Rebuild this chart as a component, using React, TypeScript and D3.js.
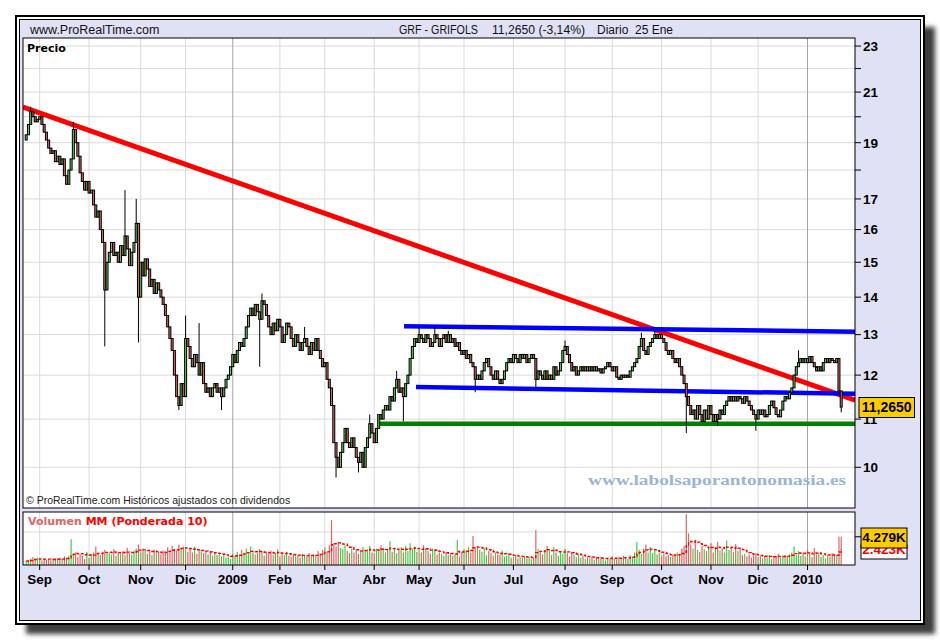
import React from "react";
import * as d3 from "d3";

// ---------------- data ----------------
const START_DATE = "2008-08-22";
const END_DATE = "2010-01-25";
const HOLIDAYS = ["2008-12-25", "2008-12-26", "2009-01-01", "2009-04-10", "2009-04-13", "2009-05-01", "2009-12-25", "2010-01-01"];
const MONTHS_ES = ["Ene", "Feb", "Mar", "Abr", "May", "Jun", "Jul", "Ago", "Sep", "Oct", "Nov", "Dic"];

const FIRST_OPEN = 19.1;
const CLOSES = [
  19.3, 19.7, 20.2, 20.0, 19.8, 19.9, 20.0, 19.7, 19.4, 19.1,
  18.8, 18.6, 18.7, 18.3, 18.5, 18.2, 18.4, 17.8, 17.5, 18.0,
  18.4, 19.5, 19.0, 18.5, 17.9, 17.6, 17.3, 17.6, 17.2, 17.3,
  16.8, 16.4, 16.6, 16.0, 15.6, 14.2, 15.0, 15.3, 15.6, 15.2,
  15.3, 15.0, 15.5, 15.2, 15.8, 15.4, 14.9, 15.3, 15.6, 16.2,
  14.0, 15.0, 14.6, 15.1, 14.8, 14.3, 14.5, 14.1, 14.4, 14.2,
  14.0, 13.8, 13.5, 13.2, 12.9, 12.6, 12.0, 11.5, 11.3, 11.8,
  11.5, 12.9, 12.7, 12.4, 12.2, 12.5, 12.3, 12.0, 12.3, 11.8,
  11.6, 11.7, 11.5, 11.7, 11.8, 11.6, 11.7, 11.5, 11.7, 11.9,
  12.0, 12.2, 12.5, 12.3, 12.6, 12.8, 12.7, 12.9, 13.2, 13.5,
  13.7, 13.5, 13.8, 13.6, 13.4, 13.9, 13.8, 13.5, 13.2, 13.0,
  13.3, 13.1, 13.4, 13.2, 12.8, 13.0, 13.3, 13.2, 12.9, 12.7,
  13.0, 12.8, 12.6, 12.8, 12.9, 12.7, 12.5, 12.8, 12.6, 12.9,
  12.6, 12.4, 12.2, 12.3, 11.9, 11.7, 11.3, 10.5, 10.2, 10.0,
  10.3, 10.5, 10.8, 10.5, 10.4, 10.6, 10.4, 10.2, 10.1, 10.3,
  10.0, 10.4, 10.6, 10.9, 10.7, 10.5, 10.8, 11.1, 11.0, 11.2,
  11.3, 11.2, 11.5, 11.4, 11.7, 11.9, 11.6, 11.7, 11.5, 11.8,
  12.0, 12.4, 12.7, 12.9, 12.8, 13.0, 12.9, 12.8, 13.0, 12.9,
  12.7, 12.8, 13.0, 12.9, 12.7, 12.9, 13.0, 12.8, 13.0, 12.8,
  12.9, 12.7, 12.8, 12.6, 12.5, 12.6, 12.4, 12.5, 12.3, 12.2,
  11.9, 12.0, 11.9, 12.1, 12.3, 12.4, 12.2, 12.0, 11.9, 12.1,
  11.9, 11.8, 11.9, 12.1, 12.3, 12.4, 12.3, 12.5, 12.4, 12.3,
  12.5, 12.4, 12.5, 12.3, 12.4, 12.5, 12.4, 11.9, 12.1, 12.0,
  11.9, 12.1, 11.9, 12.0, 11.9, 12.2, 12.0, 12.1, 12.3, 12.6,
  12.7, 12.5, 12.3, 12.1, 12.2, 12.0, 12.1, 12.2, 12.1, 12.2,
  12.1, 12.2, 12.1, 12.2, 12.1, 12.15, 12.05, 12.15, 12.2, 12.3,
  12.2, 12.1, 12.2, 11.95, 11.9, 12.0, 11.95, 12.0, 11.95, 12.1,
  12.2, 12.3, 12.4, 12.7, 12.9, 12.6, 12.5, 12.7, 12.8, 12.9,
  13.0, 12.9, 13.0, 12.9, 12.8, 12.6, 12.5, 12.6, 12.4, 12.3,
  12.4, 12.2, 12.0, 11.8, 11.5, 11.3, 11.1, 11.2, 11.0, 11.3,
  11.1, 10.95, 11.2, 11.0, 11.3, 11.1, 10.95, 11.1, 11.0, 11.2,
  11.1, 11.3, 11.4, 11.5, 11.4, 11.5, 11.4, 11.5, 11.45, 11.35,
  11.5, 11.4, 11.3, 11.2, 11.1, 11.0, 11.2, 11.1, 11.2, 11.05,
  11.1, 11.3, 11.4, 11.25, 11.1, 11.05, 11.2, 11.4, 11.5, 11.45,
  11.6, 11.7, 12.0, 12.2, 12.3, 12.4, 12.3, 12.4, 12.3, 12.45,
  12.3, 12.2, 12.1, 12.2, 12.1, 12.3, 12.4, 12.3, 12.4, 12.35,
  12.3, 12.4, 11.63, 11.265,
];
// notable wicks: [day index, price]
const HIGH_MARKS: [number, number][] = [
  [2, 20.4], [21, 19.8], [44, 17.3], [49, 17.0], [71, 13.5], [77, 13.3], [105, 14.1],
  [124, 13.2], [153, 11.1], [165, 12.1], [175, 13.2], [182, 13.2], [188, 13.1],
  [240, 12.85], [274, 13.05], [280, 13.1], [344, 12.6],
];
const LOW_MARKS: [number, number][] = [
  [35, 12.7], [50, 12.8], [68, 11.2], [87, 11.2], [104, 12.2], [138, 9.8], [148, 9.9],
  [168, 10.95], [200, 11.6], [227, 11.7], [294, 10.7], [308, 10.85], [325, 10.75], [363, 11.15],
];
// volume (K)
const VOLUMES = [
  0.6, 0.5, 0.9, 1.2, 0.8, 1.1, 0.9, 0.7, 1.0, 0.8,
  0.9, 0.7, 0.8, 1.0, 0.9, 1.1, 0.8, 1.3, 1.0, 1.4,
  3.9, 1.5, 1.9, 1.2, 1.7, 1.4, 0.9, 2.0, 1.1, 1.4,
  1.9, 2.8, 1.7, 1.5, 2.0, 2.3, 1.8, 1.9, 1.6, 2.4,
  1.4, 2.0, 1.7, 2.1, 1.5, 2.6, 1.8, 1.6, 2.2, 2.5,
  3.1, 1.9, 2.5, 2.2, 1.7, 2.0, 1.5, 2.3, 1.8, 2.0,
  1.6, 2.2, 1.9, 2.7, 2.1, 2.9, 2.4, 2.2, 3.1, 2.6,
  2.8, 2.3, 2.0, 2.6, 1.9, 2.8, 1.7, 2.2, 2.0, 1.8,
  2.2, 1.6, 1.9, 1.4, 2.0, 1.5, 1.8, 1.3, 1.6, 1.1,
  1.2, 0.9, 1.7, 1.4, 2.0, 1.5, 2.3, 1.8, 2.5, 1.7,
  2.8, 1.9, 1.6, 1.8, 2.4, 2.0, 1.4, 1.9, 1.7, 2.2,
  1.5, 1.8, 2.4, 1.3, 1.7, 1.5, 2.0, 1.4, 1.2, 1.6,
  1.3, 1.5, 1.1, 1.7, 1.4, 1.2, 1.8, 1.3, 1.6, 1.4,
  2.1, 1.7, 2.3, 2.7, 2.0, 3.0, 6.8, 3.3, 2.8, 3.4,
  2.6, 2.4, 3.0, 2.1, 1.8, 2.5, 1.9, 2.3, 1.7, 2.0,
  2.7, 2.2, 2.4, 2.9, 1.9, 1.8, 2.5, 2.1, 3.0, 2.6,
  1.9, 2.3, 3.6, 2.0, 2.5, 1.8, 2.2, 2.7, 1.9, 2.9,
  2.1, 3.3, 2.5, 2.8, 2.0, 2.3, 1.9, 3.0, 2.4, 2.1,
  1.7, 2.5, 2.2, 1.6, 1.9, 1.7, 1.4, 2.0, 1.5, 1.8,
  1.4, 1.7, 3.8, 1.3, 2.0, 2.4, 2.1, 2.7, 1.9, 4.4,
  2.5, 2.9, 2.3, 2.0, 2.6, 1.5, 2.1, 1.8, 1.4, 1.9,
  1.6, 1.5, 2.2, 1.3, 1.4, 1.7, 1.1, 1.2, 1.5, 1.0,
  1.3, 1.1, 1.4, 1.0, 1.2, 0.9, 1.1, 5.3, 2.4, 1.9,
  1.6, 2.3, 2.9, 2.1, 1.5, 2.7, 1.9, 1.4, 2.1, 1.7,
  2.5, 1.8, 1.3, 1.9, 1.6, 1.2, 1.7, 1.1, 1.4, 0.9,
  1.2, 1.0, 1.3, 0.8, 1.1, 0.9, 1.2, 1.0, 0.7, 1.1,
  0.9, 1.3, 1.0, 0.8, 1.2, 0.9, 1.4, 1.1, 0.9, 1.5,
  1.3, 1.9, 3.5, 2.3, 1.7, 2.5, 3.1, 1.9, 2.7, 1.8,
  2.2, 1.6, 1.9, 1.4, 1.7, 1.3, 1.5, 1.2, 1.6, 1.4,
  1.9, 1.7, 2.5, 2.9, 7.7, 4.8, 3.1, 2.5, 3.8, 2.3,
  2.0, 2.9, 2.4, 2.1, 2.6, 3.3, 1.9, 2.7, 3.5, 2.2,
  2.5, 1.9, 3.7, 2.3, 2.8, 2.0, 3.2, 2.1, 2.4, 1.5,
  1.7, 1.3, 1.6, 1.1, 1.5, 1.8, 1.2, 1.4, 1.0, 1.3,
  1.1, 1.5, 0.9, 1.4, 1.2, 1.7, 1.1, 1.3, 1.5, 1.2,
  1.6, 1.9, 2.8, 1.5, 2.1, 1.4, 1.8, 1.3, 2.3, 1.7,
  1.2, 2.6, 1.6, 1.9, 1.2, 1.5, 1.0, 1.6, 1.3, 1.8,
  1.4, 1.5, 4.3, 4.279,
];
const WMA_PERIOD = 10;

const PRICE_LABELS = [23, 21, 19, 17, 16, 15, 14, 13, 12, 11, 10];
const PRICE_MINOR = [22, 20, 18];
const PRICE_GRID = [10, 11, 12, 13, 14, 15, 16, 17, 18, 19, 20, 21, 22, 23];
const PRICE_DOMAIN = [9.227, 23.37];
const VOL_DOMAIN = [0, 8.03];
const VOL_GRID = [5];

// trend lines: [day index, price]
const TRENDS = [
  { from: [0, 20.34], to: [363, 11.53], color: "#FF0000", width: 5, extendLeft: true, extendRight: true },
  { from: [168.3, 13.22], to: [363, 13.08], color: "#0000FF", width: 4.5, extendLeft: false, extendRight: true },
  { from: [173.6, 11.72], to: [363, 11.57], color: "#0000FF", width: 4.5, extendLeft: false, extendRight: true },
  { from: [157.1, 10.9], to: [363, 10.9], color: "#008000", width: 4.5, extendLeft: false, extendRight: true },
];

const HEADER_SITE = "www.ProRealTime.com";
const HEADER_SYMBOL = "GRF - GRIFOLS";
const HEADER_QUOTE = "11,2650 (-3,14%)";
const HEADER_PERIOD = "Diario  25 Ene";
const LAST_PRICE_LABEL = "11,2650";
const LAST_VOL_LABEL = "4.279K";
const LAST_WMA_LABEL = "2.423K";

// ---------------- layout ----------------
const PX0 = 23, PX1 = 855;
const PY0 = 38, PY1 = 508;
const VY0 = 512, VY1 = 565;
const X_FIRST = 26.2, X_LAST = 841.2;
const AXIS_FONT = "'Liberation Sans', Arial, sans-serif";
const PIX_FONT = "'DejaVu Sans', Verdana, sans-serif";

export default function App() {
  const parse = d3.utcParse("%Y-%m-%d");
  const fmt = d3.utcFormat("%Y-%m-%d");
  const start = parse(START_DATE) as Date;
  const end = parse(END_DATE) as Date;
  const days = d3.utcDay
    .range(start, d3.utcDay.offset(end, 1))
    .filter((d) => d.getUTCDay() !== 0 && d.getUTCDay() !== 6 && !HOLIDAYS.includes(fmt(d)));
  const N = Math.min(days.length, CLOSES.length, VOLUMES.length);

  const x = d3.scaleLinear().domain([0, N - 1]).range([X_FIRST, X_LAST]);
  const y = d3.scaleLog().domain(PRICE_DOMAIN).range([PY1, PY0]);
  const yv = d3.scaleLinear().domain(VOL_DOMAIN).range([VY1, VY0]);

  const highMap = new Map(HIGH_MARKS);
  const lowMap = new Map(LOW_MARKS);
  const candles = d3.range(N).map((i) => {
    const o = i === 0 ? FIRST_OPEN : CLOSES[i - 1];
    const c = CLOSES[i];
    const h = Math.max(o, c, highMap.get(i) ?? 0);
    const l = Math.min(o, c, lowMap.get(i) ?? Infinity);
    return { i, o, c, h, l, up: c >= o, v: VOLUMES[i] };
  });

  // weighted moving average of volume
  const wma = candles.map((_, i) => {
    let s = 0, w = 0;
    for (let k = 0; k < WMA_PERIOD && i - k >= 0; k++) {
      const wt = WMA_PERIOD - k;
      s += wt * VOLUMES[i - k];
      w += wt;
    }
    return s / w;
  });
  const wmaLine = d3
    .line<number>()
    .x((_, i) => x(i))
    .y((d) => yv(d))
    .curve(d3.curveStepAfter)(wma) as string;

  const monthTicks = days
    .slice(0, N)
    .map((d, i) => ({ d, i }))
    .filter(({ d, i }) => i > 0 && d.getUTCMonth() !== days[i - 1].getUTCMonth())
    .map(({ d, i }) => ({
      i,
      year: d.getUTCMonth() === 0,
      label: d.getUTCMonth() === 0 ? String(d.getUTCFullYear()) : MONTHS_ES[d.getUTCMonth()],
    }));

  const trendSegs = TRENDS.map((t) => {
    const x1 = x(t.from[0]), y1 = y(t.from[1]);
    const x2 = x(t.to[0]), y2 = y(t.to[1]);
    const m = (y2 - y1) / (x2 - x1);
    const ax = t.extendLeft ? PX0 : x1;
    const bx = t.extendRight ? PX1 : x2;
    return { ...t, ax, ay: y1 + m * (ax - x1), bx, by: y1 + m * (bx - x1) };
  });

  const upFill = "#55D455";
  const downFill = "#E06464";

  return (
    <div style={{ position: "absolute", left: 0, top: 0 }}>
      <svg width={940} height={640} style={{ display: "block" }} fontFamily={AXIS_FONT}>
        <defs>
          <filter id="shadowBlur" x="-5%" y="-5%" width="110%" height="110%">
            <feGaussianBlur stdDeviation="2.5" />
          </filter>
          <clipPath id="priceClip">
            <rect x={PX0} y={PY0} width={PX1 - PX0} height={PY1 - PY0} />
          </clipPath>
          <clipPath id="volClip">
            <rect x={PX0} y={VY0} width={PX1 - PX0} height={VY1 - VY0} />
          </clipPath>
        </defs>
        <rect width={940} height={640} fill="#FFFFFF" />
        {/* frame with drop shadow */}
        <rect x={26} y={27} width={909} height={607} fill="#3C3C3C" filter="url(#shadowBlur)" />
        <rect x={16} y={16} width={908} height={608} fill="#FFFFFF" stroke="#000" strokeWidth={2} />
        <rect x={19.5} y={19.5} width={901} height={601} fill="#E1E1F5" stroke="#000" strokeWidth={1} />

        {/* header */}
        <text x={30} y={34} fontSize={12.5} fill="#111">{HEADER_SITE}</text>
        <text x={399} y={34} fontSize={12.5} fill="#111" textLength={79} lengthAdjust="spacingAndGlyphs">{HEADER_SYMBOL}</text>
        <text x={492} y={34} fontSize={12.5} fill="#111" textLength={93} lengthAdjust="spacingAndGlyphs">{HEADER_QUOTE}</text>
        <text x={597} y={34} fontSize={12.5} fill="#111" textLength={76} lengthAdjust="spacingAndGlyphs" style={{ whiteSpace: "pre" }}>{HEADER_PERIOD}</text>

        {/* price panel */}
        <rect x={PX0} y={PY0} width={PX1 - PX0} height={PY1 - PY0} fill="#FFFFFF" />
        <g clipPath="url(#priceClip)">
          {PRICE_GRID.map((p) => (
            <line key={p} x1={PX0} x2={PX1} y1={y(p)} y2={y(p)} stroke="#DADADA" strokeWidth={1} />
          ))}
          {monthTicks.map((t) => (
            <line key={t.i} x1={x(t.i)} x2={x(t.i)} y1={PY0} y2={PY1} stroke={t.year ? "#A4A4A4" : "#DADADA"} strokeWidth={1} />
          ))}
          {trendSegs.map((t, k) => (
            <line key={k} x1={t.ax} y1={t.ay} x2={t.bx} y2={t.by} stroke={t.color} strokeWidth={t.width} />
          ))}
          {candles.map((c) => {
            const top = y(Math.max(c.o, c.c));
            const bot = y(Math.min(c.o, c.c));
            return (
              <g key={c.i}>
                <line x1={x(c.i)} x2={x(c.i)} y1={y(c.h)} y2={y(c.l)} stroke="#000" strokeWidth={1} />
                <rect x={x(c.i) - 1} y={top} width={2} height={Math.max(1, bot - top)} fill={c.up ? upFill : downFill} stroke="#000" strokeWidth={1} />
              </g>
            );
          })}
        </g>
        <rect x={PX0} y={PY0} width={PX1 - PX0} height={PY1 - PY0} fill="none" stroke="#000" strokeWidth={1} />
        <text x={27} y={52} fontFamily={PIX_FONT} fontWeight="bold" fontSize={11} fill="#000">Precio</text>
        <text x={26} y={504} fontSize={10.5} fill="#222">© ProRealTime.com  Históricos ajustados con dividendos</text>
        <text x={588} y={485} fontFamily="'Liberation Serif', 'DejaVu Serif', serif" fontWeight="bold" fontSize={15} fill="#9BB6D4" textLength={258} lengthAdjust="spacingAndGlyphs">www.labolsaporantonomasia.es</text>

        {/* price axis */}
        {PRICE_LABELS.map((p) => (
          <g key={p}>
            <line x1={PX1} x2={PX1 + 6} y1={y(p)} y2={y(p)} stroke="#000" />
            <text x={863} y={y(p)} dy="0.36em" fontSize={13.5} fontWeight="bold" fill="#000">{p}</text>
          </g>
        ))}
        {PRICE_MINOR.map((p) => (
          <line key={p} x1={PX1} x2={PX1 + 6} y1={y(p)} y2={y(p)} stroke="#000" />
        ))}
        <rect x={859} y={397.5} width={55.5} height={20} fill="#FFCC00" stroke="#000" strokeWidth={1} />
        <text x={886.7} y={y(CLOSES[N - 1])} dy="0.36em" textAnchor="middle" fontSize={14} fontWeight="bold" fill="#000">{LAST_PRICE_LABEL}</text>

        {/* volume panel */}
        <rect x={PX0} y={VY0} width={PX1 - PX0} height={VY1 - VY0} fill="#FFFFFF" />
        <g clipPath="url(#volClip)">
          {VOL_GRID.map((v) => (
            <line key={v} x1={PX0} x2={PX1} y1={yv(v)} y2={yv(v)} stroke="#DADADA" />
          ))}
          {monthTicks.map((t) => (
            <line key={t.i} x1={x(t.i)} x2={x(t.i)} y1={VY0} y2={VY1} stroke={t.year ? "#A4A4A4" : "#DADADA"} />
          ))}
          {candles.map((c) => (
            <rect key={c.i} x={x(c.i) - 0.6} y={yv(c.v)} width={1.2} height={yv(0) - yv(c.v)} fill={c.up ? "#44CC44" : "#E06666"} />
          ))}
          <path d={wmaLine} fill="none" stroke="#FF0000" strokeWidth={1.4} strokeDasharray="3,2" />
        </g>
        <rect x={PX0} y={VY0} width={PX1 - PX0} height={VY1 - VY0} fill="none" stroke="#000" strokeWidth={1} />
        <text x={28} y={525} fontFamily={PIX_FONT} fontWeight="bold" fontSize={11}>
          <tspan fill="#E06666">Volumen </tspan>
          <tspan fill="#FF0000">MM (Ponderada 10)</tspan>
        </text>
        <line x1={PX1} x2={PX1 + 6} y1={yv(VOLUMES[N - 1])} y2={yv(VOLUMES[N - 1])} stroke="#000" />
        <rect x={861} y={545} width={46} height={14} fill="#FFFFFF" stroke="#000" strokeWidth={1} />
        <text x={884} y={yv(wma[N - 1])} dy="0.36em" textAnchor="middle" fontSize={13.5} fontWeight="bold" fill="#FF0000">{LAST_WMA_LABEL}</text>
        <rect x={861} y={528} width={46} height={20} fill="#FFCC00" stroke="#000" strokeWidth={1} />
        <text x={884} y={yv(VOLUMES[N - 1])} dy="0.36em" textAnchor="middle" fontSize={13.5} fontWeight="bold" fill="#000">{LAST_VOL_LABEL}</text>

        {/* time axis */}
        {monthTicks.map((t) => (
          <g key={t.i}>
            <line x1={x(t.i)} x2={x(t.i)} y1={VY1} y2={VY1 + 5} stroke="#000" />
            <text x={x(t.i)} y={584} textAnchor="middle" fontSize={13.5} fontWeight="bold" fill="#000">{t.label}</text>
          </g>
        ))}
      </svg>
    </div>
  );
}
